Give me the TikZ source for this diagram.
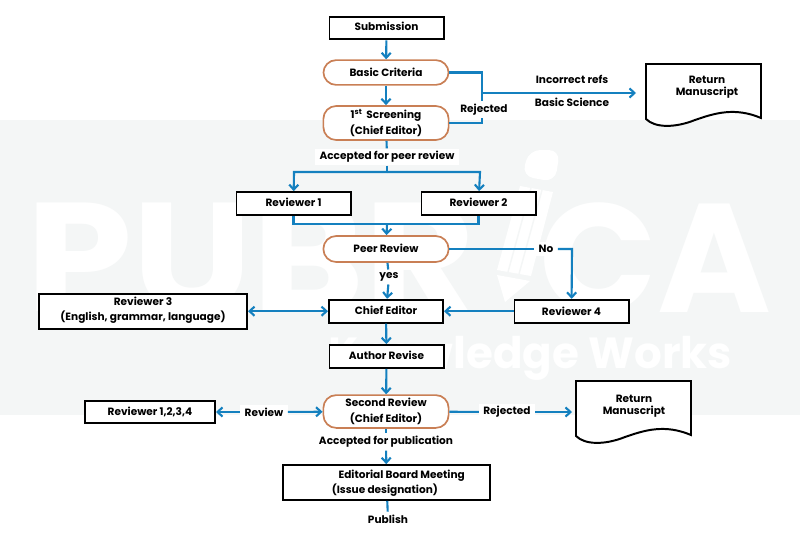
\documentclass[tikz,border=0pt]{standalone}
\usepackage{fontspec}
\setmainfont{Poppins}
\usetikzlibrary{arrows.meta}
\definecolor{flowblue}{HTML}{1480BF}
\definecolor{roundedge}{HTML}{C97F55}
\definecolor{bandgrey}{HTML}{F4F6F6}
\tikzset{
    txt/.style={font=\fontsize{7.5}{10.9}\selectfont\bfseries, align=center, inner sep=1pt},
    rectbox/.style={txt, draw=black, line width=1.4pt, fill=white, minimum width=2.85cm, minimum height=0.57cm, text depth=1.4pt},
    roundbox/.style={txt, draw=roundedge, line width=1.2pt, fill=white, rounded corners=0.32cm, minimum width=3.13cm},
    lab/.style={txt, fill=white, inner xsep=3pt, inner ysep=2pt},
    doctxt/.style={font=\fontsize{7.5}{8.8}\selectfont\bfseries, align=center, inner sep=1pt},
    flow/.style={draw=flowblue, line width=1.5pt},
    docedge/.style={draw=black, line width=1.4pt, fill=white},
}
\begin{document}
\begin{tikzpicture}[x=0.025cm, y=-0.025cm, >={Straight Barb[length=3.5pt,width=6.5pt]}]
    \useasboundingbox (0,0) rectangle (800,533);
    % background band and watermark
    \fill[bandgrey] (0,120) rectangle (800,415);
    \node[white, anchor=west, font=\fontsize{110}{110}\selectfont\bfseries, inner sep=0pt] (markleft) at (26,258) {\scalebox{1.1}[1]{PUBR}};
    \node[white, anchor=east, font=\fontsize{110}{110}\selectfont\bfseries, inner sep=0pt] (markright) at (772,258) {CA};
    \node[white, font=\fontsize{31}{31}\selectfont\bfseries, inner sep=0pt] (marktwo) at (530,358) {Knowledge Works};
    % pencil of the watermark
    \fill[white, rounded corners=8pt] (522,176) -- (529,150) -- (560,150) -- (555,182) -- cycle;
    \fill[white] (520,186) -- (553,192) -- (531,276) -- (497,270) -- cycle;
    \fill[white] (497,275) -- (530,281) -- (505,302) -- cycle;
    \draw[bandgrey, line width=1pt] (531,188) -- (508,272) (542,190) -- (519,274);

    % boxes
    \node[rectbox, text depth=2.8pt] (sub) at (386.5,28) {Submission};
    \node[roundbox, minimum height=0.62cm] (basic) at (386,72.5) {Basic Criteria};
    \node[roundbox, minimum height=0.85cm] (screen) at (386,123) {1\textsuperscript{st} \,Screening\\(Chief Editor)};
    \node[rectbox] (revone) at (293.5,203.5) {Reviewer 1};
    \node[rectbox] (revtwo) at (478.5,203.5) {Reviewer 2};
    \node[roundbox, minimum height=0.65cm, text depth=1.4pt] (peer) at (386,249) {Peer Review};
    \node[rectbox] (chief) at (386,311.2) {Chief Editor};
    \node[rectbox, text depth=0pt] (revfour) at (571.5,311.2) {Reviewer 4};
    \node[rectbox, minimum width=5.2cm, minimum height=0.87cm, text depth=3.5pt] (revthree) at (143,311.2) {Reviewer 3\\(English, grammar, language)};
    \node[rectbox] (author) at (386.5,356.5) {Author Revise};
    \node[roundbox, minimum height=0.82cm] (second) at (386,411.5) {Second Review\\(Chief Editor)};
    \node[rectbox, minimum width=3.25cm] (revall) at (150,412) {Reviewer 1,2,3,4};
    \node[rectbox, minimum width=5.18cm, minimum height=0.87cm] (board) at (386.5,482.5) {};
    \node[txt] (boardtext) at (397.5,483.3) {\hspace*{6pt}Editorial Board Meeting\\\hspace*{-18pt}(Issue designation)};

    % manuscripts
    \draw[docedge] (646,64) -- (761,64) -- (761,118) .. controls (735,107) and (715,113) .. (695,120) .. controls (675,128) and (655,128) .. (646,119) -- cycle;
    \draw[docedge] (576,381) -- (691,381) -- (691,435) .. controls (665,424) and (645,430) .. (625,437) .. controls (605,445) and (585,445) .. (576,436) -- cycle;
    \node[doctxt] (retone) at (707,87) {Return\\Manuscript};
    \node[doctxt] (rettwo) at (634,406) {Return\\Manuscript};

    % labels on the connectors
    \node[lab] (rej) at (484,110) {Rejected};
    \node[lab] (accpeer) at (387,157) {Accepted for peer review};
    \node[lab] (no) at (546,249) {No};
    \node[lab] (yes) at (389,277) {yes};
    \node[lab] (rev) at (264,412) {Review};
    \node[lab] (rejtwo) at (507,412) {Rejected};
    \node[lab] (accpub) at (386,442) {Accepted for publication};
    \node[lab] (pub) at (388,519) {Publish};
    \node[txt] (incorrect) at (572,79) {Incorrect refs};
    \node[txt] (science) at (572,102) {Basic Science};

    % points where lines bend or end
    \coordinate (rejtop) at (482,93);
    \coordinate (rejup) at (482,101);
    \coordinate (rejdown) at (482,118);
    \coordinate (retend) at (636,93);
    \coordinate (splittop) at (387,172);
    \coordinate (splitleft) at (294,172);
    \coordinate (splitright) at (480,172);
    \coordinate (joinbot) at (387,224);
    \coordinate (rettwoend) at (572,412);
    \coordinate (nodrop) at (572,249);

    % connectors
    \draw[flow, ->] (sub) -- (basic);
    \draw[flow, ->] (basic) -- (screen);
    \draw[flow] (basic.east) -| (rejup);
    \draw[flow] (screen.east) -| (rejdown);
    \draw[flow, ->] (rejtop) -- (retend);
    \draw[flow] (screen) -- (accpeer);
    \draw[flow] (accpeer) -- (splittop);
    \draw[flow, ->] (splittop) -- (splitleft) -- (revone);
    \draw[flow, ->] (splittop) -- (splitright) -- (revtwo);
    \draw[flow] (revone.south) |- (joinbot);
    \draw[flow] (revtwo.south) |- (joinbot);
    \draw[flow, ->] (joinbot) -- (peer);
    \draw[flow] (peer.east) -- (no);
    \draw[flow, ->] (no) -- (nodrop) -- (revfour);
    \draw[flow] (peer) -- (yes);
    \draw[flow, ->] (yes) -- (chief);
    \draw[flow, <->] (revthree) -- (chief);
    \draw[flow, ->] (revfour) -- (chief);
    \draw[flow, ->] (chief) -- (author);
    \draw[flow, ->] (author) -- (second);
    \draw[flow, ->] (rev) -- (revall);
    \draw[flow, ->] (rev) -- (second);
    \draw[flow] (second) -- (rejtwo);
    \draw[flow, ->] (rejtwo) -- (rettwoend);
    \draw[flow] (second) -- (accpub);
    \draw[flow, ->] (accpub) -- (board);
    \draw[flow] (board) -- (pub);
\end{tikzpicture}
\end{document}
